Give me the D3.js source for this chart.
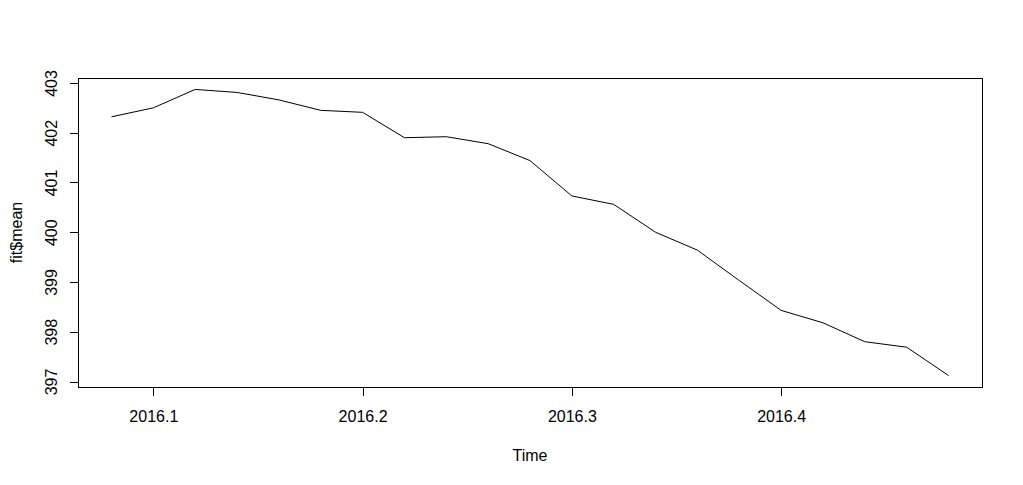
<!DOCTYPE html>
<html>
<head>
<meta charset="utf-8">
<script src="https://cdn.jsdelivr.net/npm/d3@7"></script>
<style>
    body { margin: 0; background: #fff; }
    svg { display: block; font-family: Arial, "Liberation Sans", sans-serif; }
</style>
</head>
<body>
<div id="chart"></div>
<script>
// forecast means
const times = [2016.08, 2016.10, 2016.12, 2016.14, 2016.16, 2016.18, 2016.20,
    2016.22, 2016.24, 2016.26, 2016.28, 2016.30, 2016.32, 2016.34,
    2016.36, 2016.38, 2016.40, 2016.42, 2016.44, 2016.46, 2016.48];
const means = [402.32, 402.50, 402.87, 402.81, 402.66, 402.45, 402.41,
    401.90, 401.92, 401.78, 401.44, 400.73, 400.56, 400.00,
    399.64, 399.03, 398.43, 398.18, 397.80, 397.69, 397.12];
const xTicks = [2016.1, 2016.2, 2016.3, 2016.4];
const yTicks = [397, 398, 399, 400, 401, 402, 403];

const width = 1023;
const height = 485;
const box = { left: 78, right: 982, top: 78, bottom: 387 };

// R-style 4% padding on both ends
function pad(ext) {
    const r = ext[1] - ext[0];
    return [ext[0] - 0.04 * r, ext[1] + 0.04 * r];
}

const x = d3.scaleLinear().domain(pad(d3.extent(times))).range([box.left, box.right]);
const y = d3.scaleLinear().domain(pad(d3.extent(means))).range([box.bottom, box.top]);

const svg = d3.select('#chart').append('svg')
    .attr('width', width)
    .attr('height', height);

// series line
const points = times.map((t, i) => [t, means[i]]);
svg.append('path')
    .datum(points)
    .attr('fill', 'none')
    .attr('stroke', '#000')
    .attr('stroke-width', 1)
    .attr('d', d3.line().x(d => x(d[0])).y(d => y(d[1])));

// frame
svg.append('rect')
    .attr('x', box.left + 0.5)
    .attr('y', box.top + 0.5)
    .attr('width', box.right - box.left)
    .attr('height', box.bottom - box.top)
    .attr('fill', 'none')
    .attr('stroke', '#000')
    .attr('shape-rendering', 'crispEdges');

// axes
const xAxis = d3.axisBottom(x)
    .tickValues(xTicks)
    .tickFormat(d3.format('.1f'))
    .tickSize(8)
    .tickPadding(15);
const gx = svg.append('g')
    .attr('transform', `translate(0,${box.bottom + 0.5})`)
    .call(xAxis);
gx.select('.domain')
    .attr('d', `M${x(xTicks[0])},0H${x(xTicks[xTicks.length - 1])}`);

const yAxis = d3.axisLeft(y)
    .tickValues(yTicks)
    .tickFormat(d3.format('d'))
    .tickSize(9)
    .tickPadding(13);
const gy = svg.append('g')
    .attr('transform', `translate(${box.left + 0.5},0)`)
    .call(yAxis);
gy.select('.domain')
    .attr('d', `M0,${y(yTicks[0])}V${y(yTicks[yTicks.length - 1])}`);
gy.selectAll('.tick text')
    .attr('x', null)
    .attr('dy', null)
    .attr('text-anchor', 'middle')
    .attr('transform', 'translate(-22,0) rotate(-90)');

svg.selectAll('.tick text')
    .attr('font-size', 16)
    .attr('font-family', 'Arial, "Liberation Sans", sans-serif')
    .attr('fill', '#000');
svg.selectAll('.domain, .tick line')
    .attr('stroke', '#000')
    .attr('shape-rendering', 'crispEdges');

// axis titles
svg.append('text')
    .attr('x', (box.left + box.right) / 2)
    .attr('y', 461)
    .attr('text-anchor', 'middle')
    .attr('font-size', 16)
    .text('Time');

svg.append('text')
    .attr('transform', `translate(22,${(box.top + box.bottom) / 2}) rotate(-90)`)
    .attr('text-anchor', 'middle')
    .attr('font-size', 16)
    .text('fit$mean');
</script>
</body>
</html>
